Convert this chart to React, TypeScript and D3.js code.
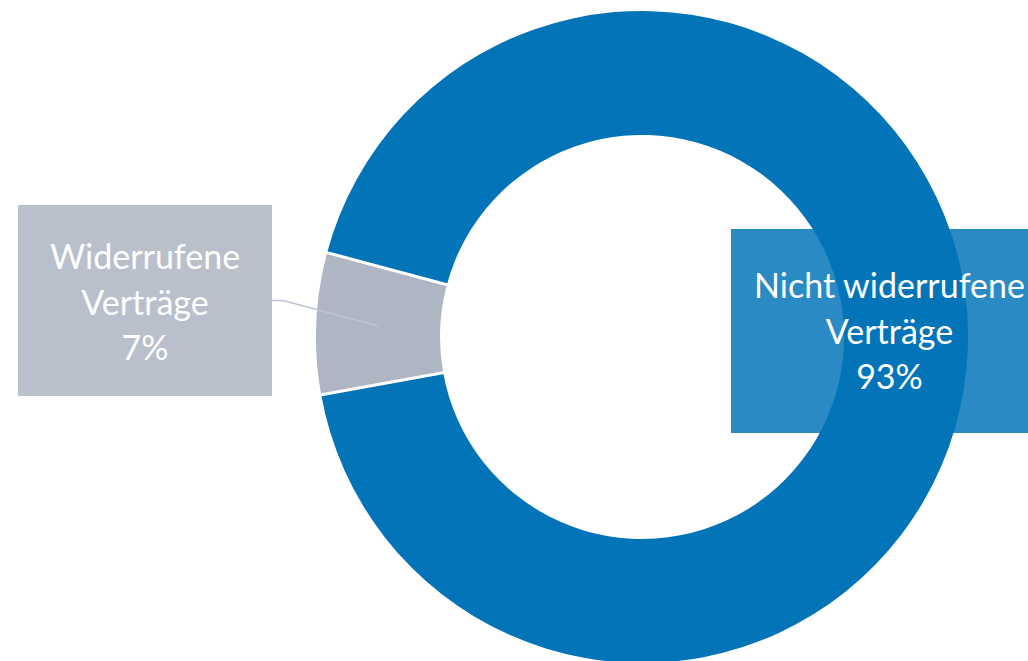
import React from "react";
import * as d3 from "d3";

const categories = ["Nicht widerrufene Verträge", "Widerrufene Verträge"];
const values = [93, 7];
const labelLines = [
  ["Nicht widerrufene", "Verträge", "93%"],
  ["Widerrufene", "Verträge", "7%"],
];
const sliceColors = ["#0474b8", "#aeb5c3"];
const boxColors = ["#2a8ac4", "#b9c0cc"];

const W = 1028;
const H = 661;
const cx = 642;
const cy = 337;
const R = 326;
const r = 202;
const FONT = "Lato, 'Open Sans', sans-serif";
const FS = 34;

export default function App() {
  const pie = d3
    .pie<number>()
    .sort(null)
    .value((d) => d)
    .startAngle((-75 * Math.PI) / 180)
    .endAngle((285 * Math.PI) / 180);
  const arcs = pie(values);
  const arc = d3.arc<d3.PieArcDatum<number>>().innerRadius(r).outerRadius(R);
  const mid = d3.arc<d3.PieArcDatum<number>>().innerRadius(r + 62).outerRadius(r + 62);

  const grayCentroid = mid.centroid(arcs[1]);
  const gx = cx + grayCentroid[0];
  const gy = cy + grayCentroid[1];

  const boxes = [
    { x: 731, y: 229, w: 317, h: 204 },
    { x: 18, y: 205, w: 254, h: 191 },
  ];

  const separators = arcs.map((a) => {
    const ang = a.startAngle;
    const sx = Math.sin(ang);
    const sy = -Math.cos(ang);
    return { x1: (r - 1) * sx, y1: (r - 1) * sy, x2: (R + 1) * sx, y2: (R + 1) * sy };
  });

  return (
    <svg
      width={W}
      height={H}
      style={{ position: "absolute", left: 0, top: 0, display: "block" }}
    >
      <rect x={0} y={0} width={W} height={H} fill="#ffffff" />
      {/* label boxes behind */}
      <rect x={boxes[0].x} y={boxes[0].y} width={boxes[0].w} height={boxes[0].h} fill={boxColors[0]} />
      <rect x={boxes[1].x} y={boxes[1].y} width={boxes[1].w} height={boxes[1].h} fill={boxColors[1]} />
      <g transform={`translate(${cx},${cy})`}>
        {arcs.map((a, i) => (
          <path key={categories[i]} d={arc(a) || ""} fill={sliceColors[i]} />
        ))}
        {separators.map((s, i) => (
          <line key={i} x1={s.x1} y1={s.y1} x2={s.x2} y2={s.y2} stroke="#ffffff" strokeWidth={3} />
        ))}
      </g>
      {/* leader line */}
      <polyline
        points={`${boxes[1].x + boxes[1].w},300.5 283,300.5 ${gx},${gy}`}
        fill="none"
        stroke="#bcc3d2"
        strokeWidth={1.5}
      />
      {labelLines.map((lines, i) => {
        const b = boxes[i];
        const tx = b.x + b.w / 2;
        const base = i === 0 ? 298 : 269;
        return (
          <text key={i} fill="#ffffff" fontFamily={FONT} fontSize={FS} textAnchor="middle">
            {lines.map((l, j) => (
              <tspan key={j} x={tx} y={base + j * 45.5}>
                {l}
              </tspan>
            ))}
          </text>
        );
      })}
    </svg>
  );
}
